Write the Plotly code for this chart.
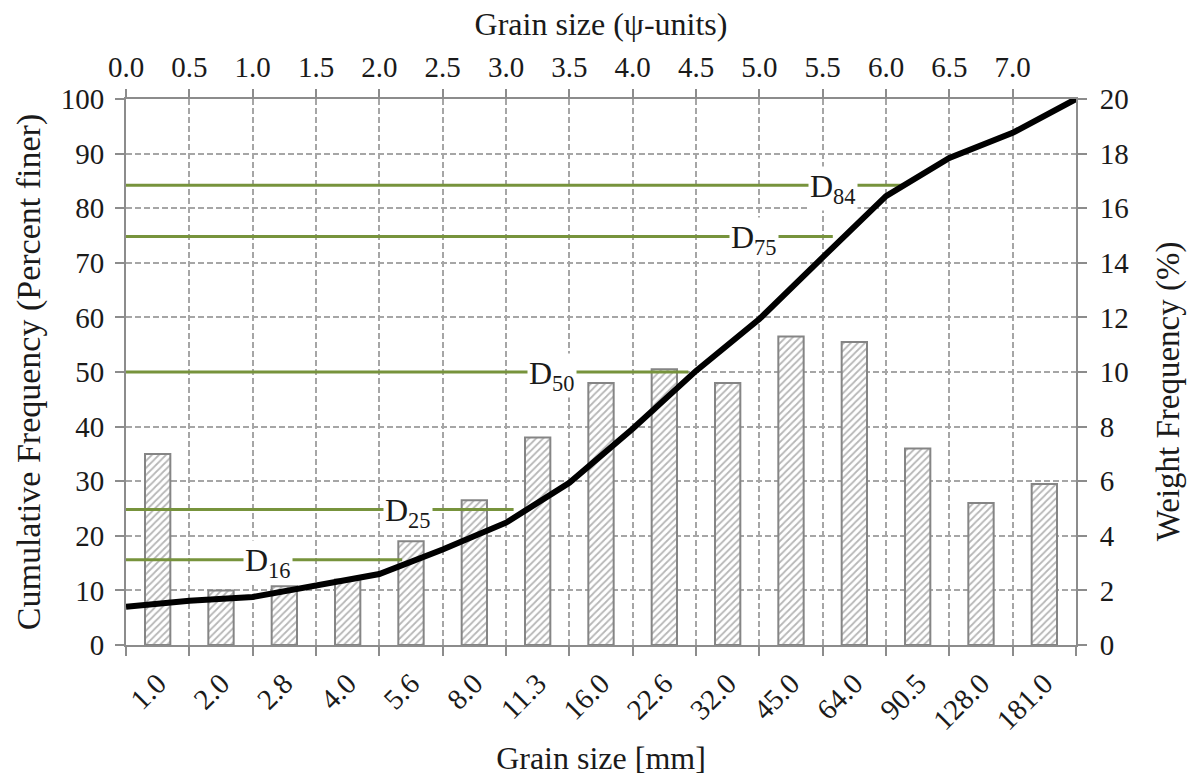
import plotly.graph_objects as go

# ---------------- data ----------------
size_mm = ["1.0", "2.0", "2.8", "4.0", "5.6", "8.0", "11.3", "16.0", "22.6",
           "32.0", "45.0", "64.0", "90.5", "128.0", "181.0"]
weight_pct = [7.0, 2.0, 2.15, 2.4, 3.8, 5.3, 7.6, 9.6, 10.1, 9.6, 11.3, 11.1, 7.2, 5.2, 5.9]

phi = [0.0, 0.5, 1.0, 1.5, 2.0, 2.5, 3.0, 3.5, 4.0, 4.5, 5.0, 5.5, 6.0, 6.5, 7.0, 7.5]
cum_pct = [7.0, 8.1, 8.8, 10.8, 13.0, 17.5, 22.4, 29.7, 39.6, 50.2, 59.7, 71.0,
           82.2, 89.2, 93.8, 100.0]

phi_ticks = [0.0, 0.5, 1.0, 1.5, 2.0, 2.5, 3.0, 3.5, 4.0, 4.5, 5.0, 5.5, 6.0, 6.5, 7.0]
phi_ticktext = ["0.0", "0.5", "1.0", "1.5", "2.0", "2.5", "3.0", "3.5", "4.0",
                "4.5", "5.0", "5.5", "6.0", "6.5", "7.0"]

d_names = ["16", "25", "50", "75", "84"]
d_levels = [15.6, 24.8, 50.0, 74.8, 84.2]
d_end_phi = [2.18, 3.06, 4.44, 5.58, 6.15]
d_label_phi = [1.12, 2.23, 3.36, 4.96, 5.58]

# ---------------- style ----------------
FONT = "Liberation Serif"
TXT = "#1a1a1a"
AXIS = "#8c8c8c"
GRID = "#a6a6a6"
GREEN = "#77933c"
FS = 29
TFS = 32

fig = go.Figure()

# bars: bottom category axis (x) with right-hand weight axis (y, main)
fig.add_trace(go.Bar(
    x=size_mm, y=weight_pct, xaxis="x", yaxis="y", width=0.4,
    marker=dict(color="white",
                line=dict(color="#858585", width=2),
                pattern=dict(shape="/", fgcolor="#6e6e6e", bgcolor="white",
                             size=5, solidity=0.35)),
    showlegend=False, hoverinfo="skip"))

# D-lines and cumulative curve: top phi axis (x2) with left cumulative axis (y2)
for name, lvl, end, lx in zip(d_names, d_levels, d_end_phi, d_label_phi):
    fig.add_trace(go.Scatter(
        x=[0.0, end], y=[lvl, lvl], xaxis="x2", yaxis="y2", mode="lines",
        line=dict(color=GREEN, width=3), showlegend=False, hoverinfo="skip"))
    fig.add_annotation(
        x=lx, y=lvl, xref="x2", yref="y2", text="D<sub>" + name + "</sub>",
        showarrow=False, bgcolor="white", borderpad=1, yshift=-3,
        font=dict(family=FONT, size=32, color=TXT))

fig.add_trace(go.Scatter(
    x=phi, y=cum_pct, xaxis="x2", yaxis="y2", mode="lines",
    line=dict(color="black", width=6), showlegend=False, hoverinfo="skip"))

tickfont = dict(family=FONT, size=FS, color=TXT)

# right-hand axis title placed as a rotated annotation (matches reference offset)
fig.add_annotation(
    x=1.097, y=0.465, xref="paper", yref="paper", text="Weight Frequency (%)",
    textangle=-90, showarrow=False, xanchor="center", yanchor="middle",
    font=dict(family=FONT, size=33, color=TXT))

fig.update_layout(
    width=1187, height=776,
    margin=dict(l=126, r=111, t=99, b=131),
    plot_bgcolor="white", paper_bgcolor="white",
    xaxis=dict(
        type="category", categoryorder="array", categoryarray=size_mm,
        range=[-0.5, 14.5], tickson="boundaries", ticks="outside", ticklen=9,
        tickwidth=2, tickcolor=AXIS, tickangle=-45, tickfont=tickfont,
        ticklabelstandoff=8, automargin=False,
        showgrid=False, showline=True, linecolor=AXIS, linewidth=2,
        title=dict(text="Grain size [mm]", font=dict(family=FONT, size=TFS, color=TXT),
                   standoff=13),
        zeroline=False),
    xaxis2=dict(
        overlaying="x", side="top", range=[0, 7.5], tickvals=phi_ticks,
        ticktext=phi_ticktext, ticks="outside", ticklen=8, tickwidth=2,
        tickcolor=AXIS, tickfont=tickfont, showgrid=True, gridcolor=GRID,
        gridwidth=1.5, griddash="6px,3px", showline=True, linecolor=AXIS,
        linewidth=2, zeroline=False, automargin=False,
        title=dict(text="Grain size (ψ-units)", font=dict(family=FONT, size=TFS, color=TXT),
                   standoff=6)),
    yaxis=dict(
        side="right", range=[0, 20], dtick=2, ticks="outside",
        ticklen=9, tickwidth=2, tickcolor=AXIS, tickfont=tickfont,
        ticklabelstandoff=7, automargin=False,
        showgrid=False, showline=True, linecolor=AXIS, linewidth=2,
        zeroline=False),
    yaxis2=dict(
        overlaying="y", side="left", range=[0, 100], dtick=10, ticks="outside",
        ticklen=9, tickwidth=2, tickcolor=AXIS, tickfont=tickfont,
        ticklabelstandoff=5, automargin=False,
        showgrid=True, gridcolor=GRID, gridwidth=1.5, griddash="6px,3px",
        showline=True, linecolor=AXIS, linewidth=2, zeroline=False,
        title=dict(text="Cumulative Frequency (Percent finer)",
                   font=dict(family=FONT, size=34, color=TXT), standoff=10)),
)

fig.write_html("out.html")
